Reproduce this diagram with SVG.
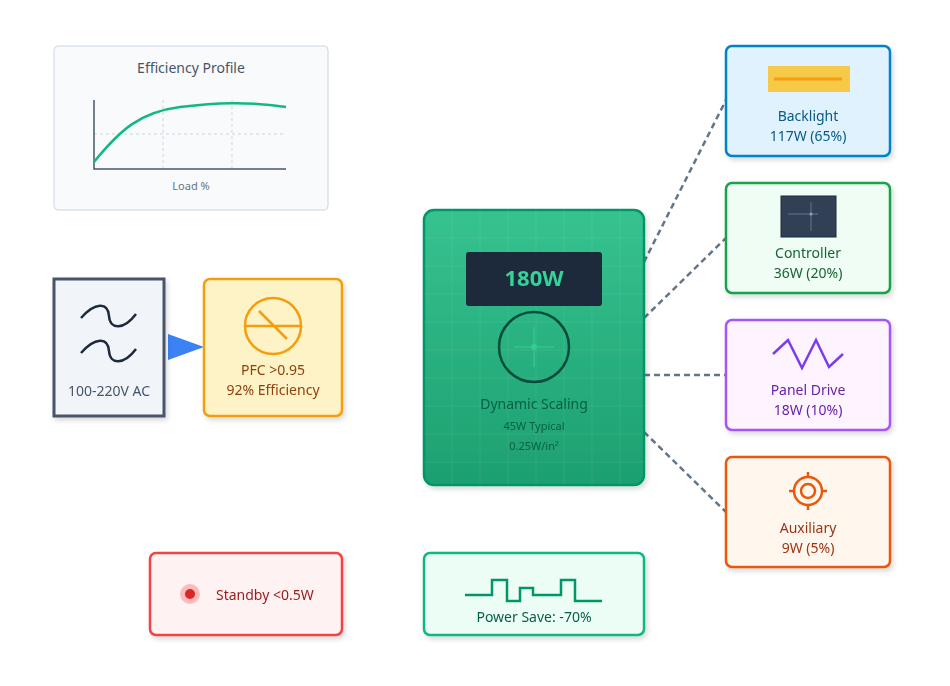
<svg xmlns="http://www.w3.org/2000/svg" width="950" height="686" viewBox="0 0 950 686">
<style>
text{font-family:"Noto Sans","Open Sans","DejaVu Sans",sans-serif;text-anchor:middle}
.t{font-size:14px}.s{font-size:12px}
.conn{stroke:#64748b;stroke-width:2.5;stroke-dasharray:6 4;fill:none}
.box{stroke-width:2.5}
</style>
<defs>
<filter id="sh" x="-10%" y="-10%" width="130%" height="130%"><feDropShadow dx="2" dy="3" stdDeviation="2.5" flood-color="#000" flood-opacity="0.15"/></filter>
<linearGradient id="g" x1="0" y1="0" x2="0" y2="1"><stop offset="0" stop-color="#36c390"/><stop offset="1" stop-color="#1d9f70"/></linearGradient>
</defs>
<rect width="950" height="686" fill="#fff"/>
<g id="connectors">
<path class="conn" d="M644 262 L726 100"/>
<path class="conn" d="M644 318 L726 238"/>
<path class="conn" d="M644 375 L726 375"/>
<path class="conn" d="M644 432 L726 512"/>
<polygon points="168,334 204,347 168,360" fill="#3b82f6"/>
</g>
<g id="efficiency">
<rect x="54" y="46" width="274" height="164" rx="4" fill="#f8fafc" stroke="#cbd5e1" stroke-width="1"/>
<text x="191" y="73" class="t" fill="#475569">Efficiency Profile</text>
<g stroke="#cbd5e1" stroke-width="1" stroke-dasharray="3 3"><path d="M163 100V169M232 100V169M94 134H286"/></g>
<path d="M94 100V169H286" fill="none" stroke="#475569" stroke-width="1.5"/>
<path d="M94 162 C120 130 140 112 180 107 C215 103 245 101 286 107" fill="none" stroke="#10b981" stroke-width="2.5"/>
<text x="191" y="190" font-size="11" fill="#64748b">Load %</text>
</g>
<g id="ac" filter="url(#sh)">
<rect x="54" y="279" width="110" height="137" fill="#f1f5f9" stroke="#475569" stroke-width="3"/>
<path d="M81 318 C95 302 108 302 109 316 C110 330 124 330 136 314 M81 353 C95 337 108 337 109 351 C110 365 124 365 136 349" fill="none" stroke="#1e293b" stroke-width="2.5"/>
<text x="109" y="396" class="t" fill="#475569">100-220V AC</text>
</g>
<g id="pfc" filter="url(#sh)">
<rect x="204" y="279" width="138" height="137" rx="6" fill="#fef3c7" stroke="#f59e0b" class="box"/>
<circle cx="273" cy="326" r="28" fill="none" stroke="#f59e0b" stroke-width="2.5"/>
<path d="M245 326H301M259 311L287 339" stroke="#f59e0b" stroke-width="2.5"/>
<text x="273" y="375" class="t" fill="#92400e">PFC &gt;0.95</text>
<text x="273" y="395" class="t" fill="#92400e">92% Efficiency</text>
</g>
<g id="main" filter="url(#sh)">
<rect x="424" y="210" width="220" height="275" rx="10" fill="url(#g)" stroke="#059669" class="box"/>
<g stroke="#fff" stroke-opacity="0.07" stroke-width="1"><path d="M452 210V485M480 210V485M508 210V485M536 210V485M564 210V485M592 210V485M620 210V485M424 238H644M424 266H644M424 294H644M424 322H644M424 350H644M424 378H644M424 406H644M424 434H644M424 462H644"/></g>
<rect x="466" y="252" width="136" height="54" rx="3" fill="#1e293b"/>
<text x="534" y="286" font-size="22" font-weight="bold" fill="#34d399">180W</text>
<circle cx="534" cy="347" r="35" fill="none" stroke="#064e3b" stroke-width="2.5"/>
<path d="M514 347H554M534 327V367" stroke="#34d399" stroke-width="1.5" stroke-opacity="0.6"/>
<circle cx="534" cy="347" r="3" fill="#34d399" fill-opacity="0.7"/>
<text x="534" y="409" class="t" fill="#065f46">Dynamic Scaling</text>
<text x="534" y="430" font-size="11" fill="#065f46">45W Typical</text>
<text x="534" y="450" font-size="11" fill="#065f46">0.25W/in²</text>
</g>
<g id="backlight" filter="url(#sh)">
<rect x="726" y="46" width="164" height="110" rx="6" fill="#e0f2fe" stroke="#0284c7" class="box"/>
<rect x="768" y="66" width="82" height="26" fill="#f6c94a"/>
<path d="M774 79H842" stroke="#f59e0b" stroke-width="3"/>
<text x="808" y="121" class="t" fill="#075985">Backlight</text>
<text x="808" y="141" class="t" fill="#075985">117W (65%)</text>
</g>
<g id="controller" filter="url(#sh)">
<rect x="726" y="183" width="164" height="110" rx="6" fill="#f0fdf4" stroke="#16a34a" class="box"/>
<rect x="781" y="196" width="55" height="41" fill="#334155" stroke="#1e293b"/>
<path d="M788 214H818M811 202V231" stroke="#64748b" stroke-width="1"/>
<circle cx="811" cy="214" r="1.5" fill="#94a3b8"/>
<text x="808" y="258" class="t" fill="#166534">Controller</text>
<text x="808" y="278" class="t" fill="#166534">36W (20%)</text>
</g>
<g id="panel" filter="url(#sh)">
<rect x="726" y="320" width="164" height="110" rx="6" fill="#fdf4ff" stroke="#a855f7" class="box"/>
<path d="M773 354L788 340L802 368L816 340L829 367L843 354" fill="none" stroke="#7c3aed" stroke-width="2.5"/>
<text x="808" y="395" class="t" fill="#6b21a8">Panel Drive</text>
<text x="808" y="415" class="t" fill="#6b21a8">18W (10%)</text>
</g>
<g id="auxiliary" filter="url(#sh)">
<rect x="726" y="457" width="164" height="110" rx="6" fill="#fff7ed" stroke="#ea580c" class="box"/>
<circle cx="808" cy="491" r="14" fill="none" stroke="#ea580c" stroke-width="2.5"/>
<circle cx="808" cy="491" r="7" fill="none" stroke="#ea580c" stroke-width="2.5"/>
<path d="M808 472V477M808 505V510M789 491H794M822 491H827" stroke="#ea580c" stroke-width="2.5"/>
<text x="808" y="533" class="t" fill="#9a3412">Auxiliary</text>
<text x="808" y="553" class="t" fill="#9a3412">9W (5%)</text>
</g>
<g id="standby" filter="url(#sh)">
<rect x="150" y="553" width="192" height="82" rx="6" fill="#fef2f2" stroke="#ef4444" class="box"/>
<circle cx="190" cy="594" r="10" fill="#fca5a5" fill-opacity="0.7"/>
<circle cx="190" cy="594" r="5" fill="#dc2626"/>
<text x="216" y="600" class="t" fill="#991b1b" style="text-anchor:start">Standby &lt;0.5W</text>
</g>
<g id="powersave" filter="url(#sh)">
<rect x="424" y="553" width="220" height="82" rx="6" fill="#ecfdf5" stroke="#10b981" class="box"/>
<path d="M465 595H492V580H507V601H520V588H533V595H561V580H575V601H602" fill="none" stroke="#059669" stroke-width="2.5"/>
<text x="534" y="622" class="t" fill="#065f46">Power Save: -70%</text>
</g>
</svg>
